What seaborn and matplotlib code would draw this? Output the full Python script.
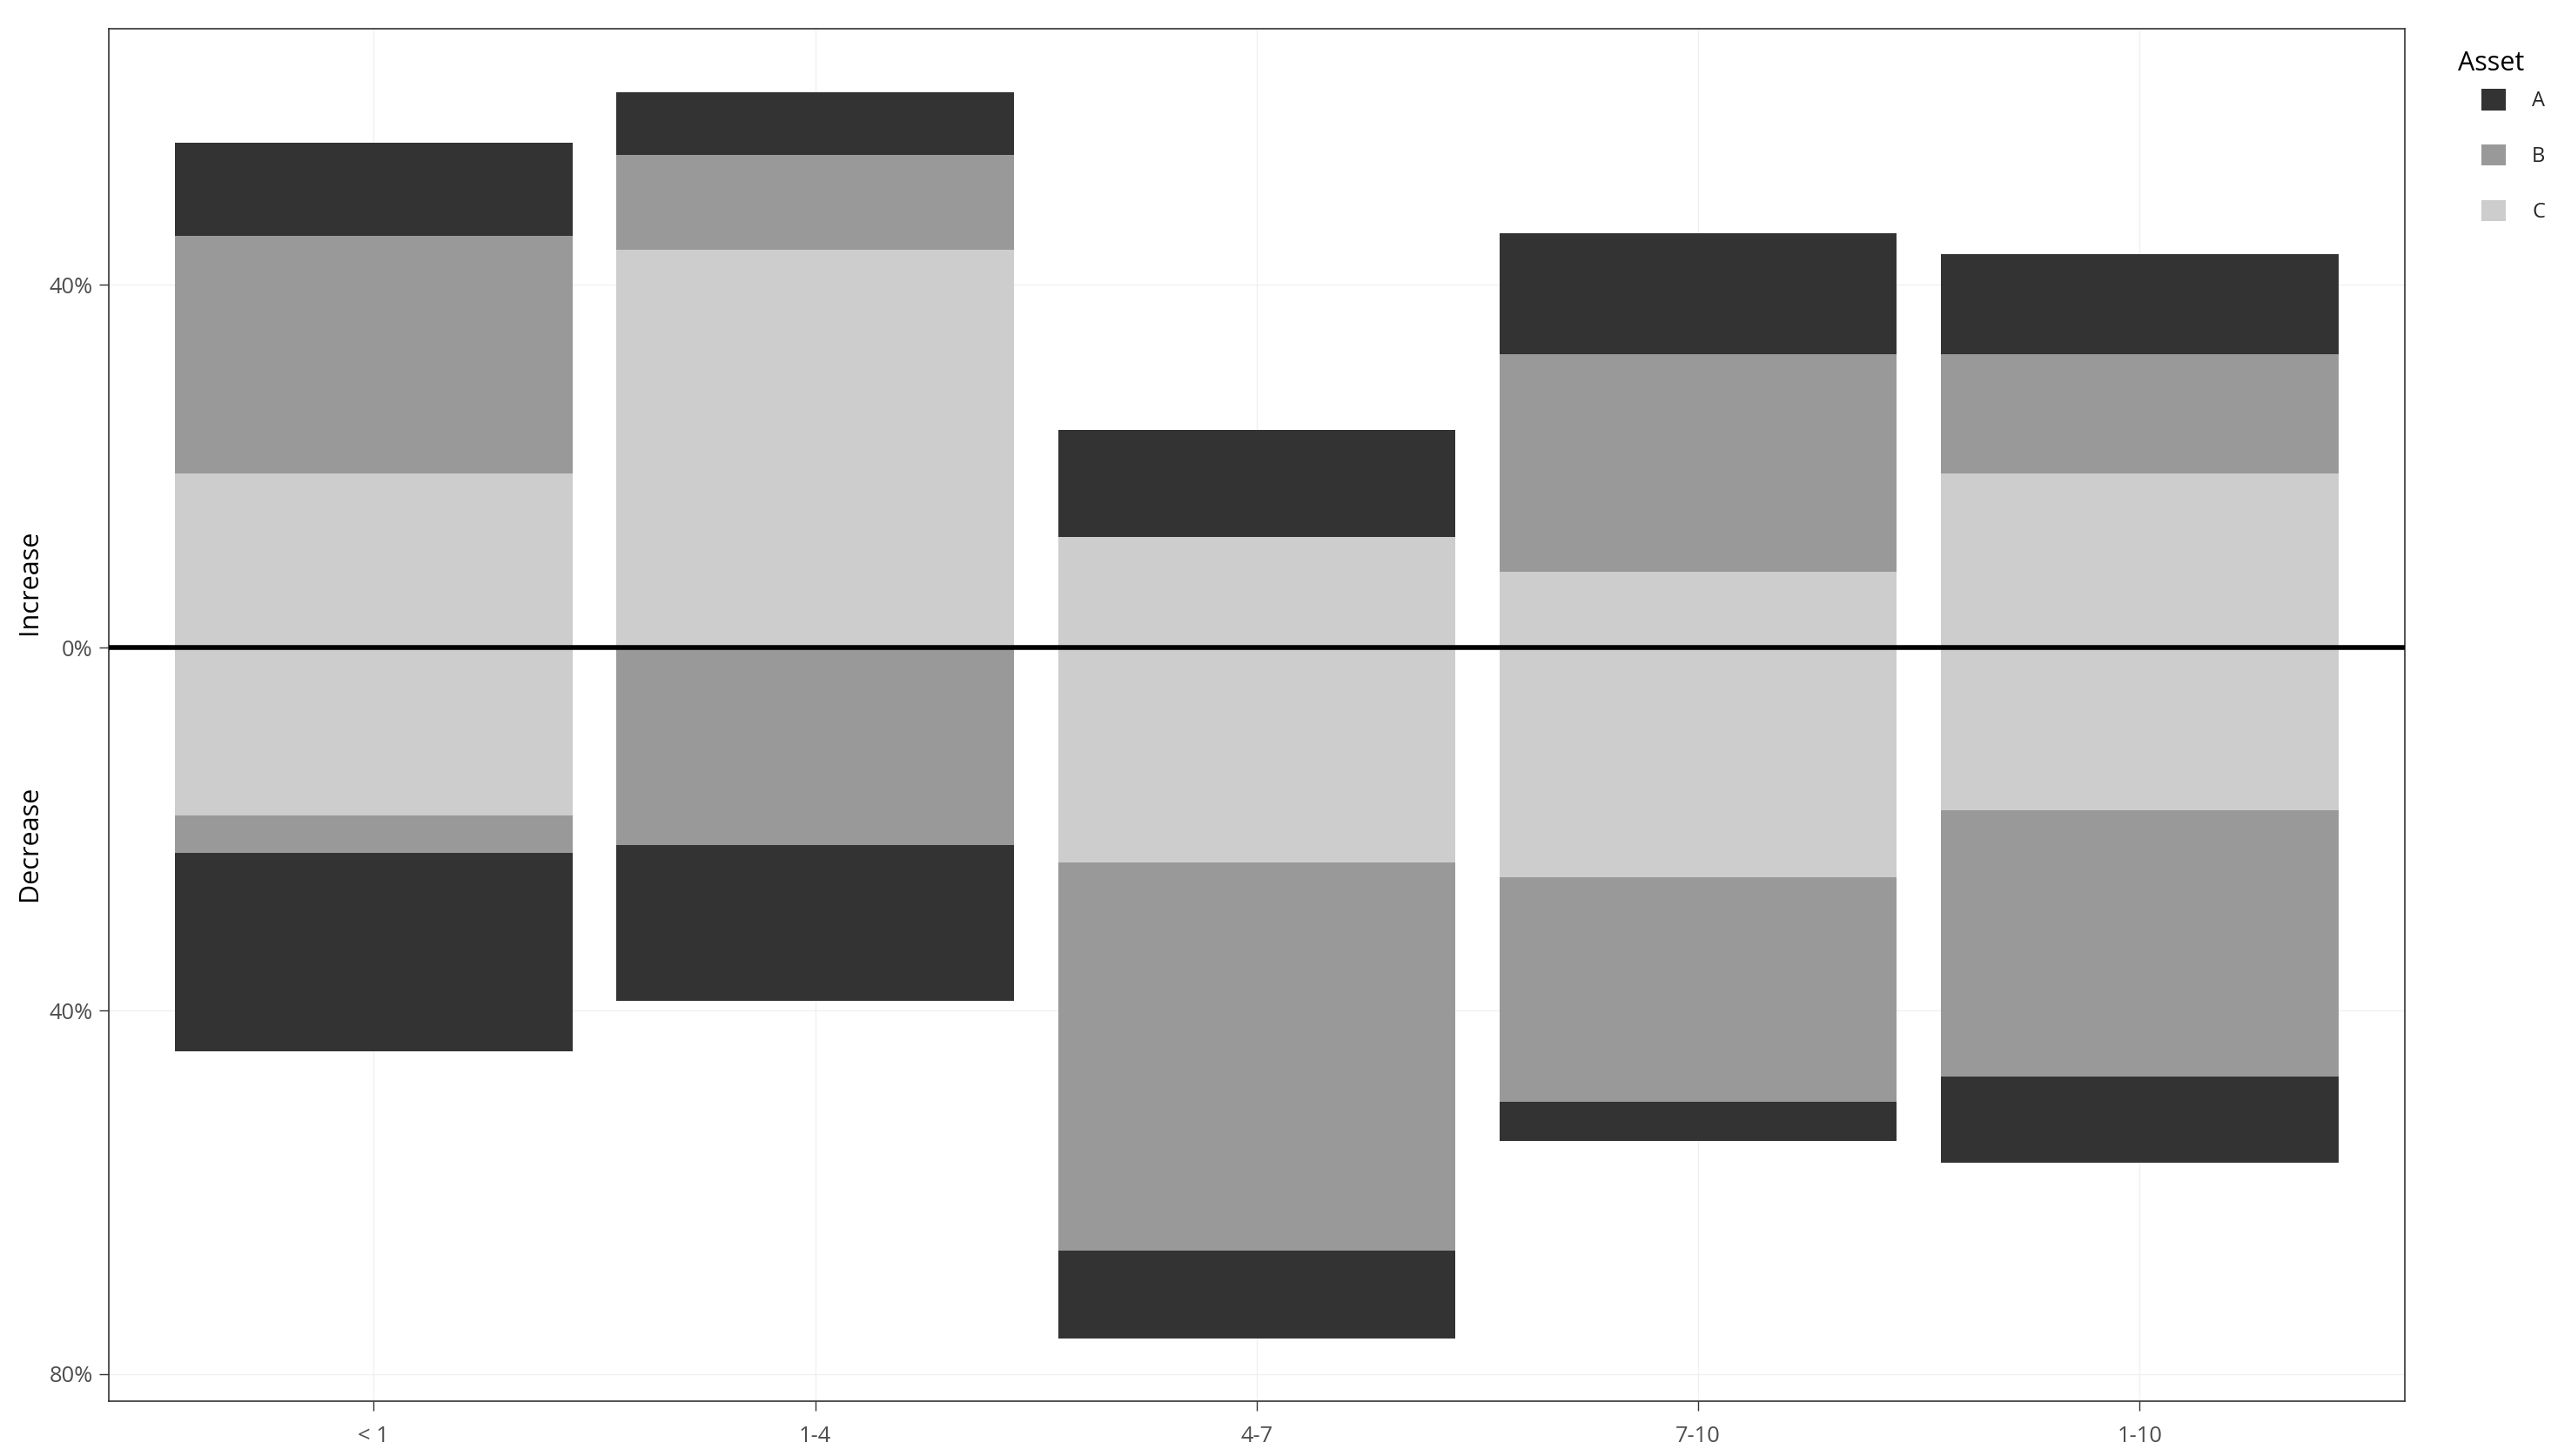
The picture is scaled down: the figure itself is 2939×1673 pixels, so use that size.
import matplotlib
matplotlib.use('Agg')
import matplotlib.pyplot as plt
import matplotlib.patches as mpatches
import seaborn as sns
import pandas as pd

# values in percent
periods = ['< 1', '1-4', '4-7', '7-10', '1-10']
inc_a = [10.2, 6.9, 11.8, 13.4, 11.1]
inc_b = [26.2, 10.5, 0.0, 23.9, 13.1]
inc_c = [19.2, 43.8, 12.2, 8.4, 19.2]
dec_a = [21.9, 17.2, 9.7, 4.3, 9.5]
dec_b = [4.1, 21.7, 42.7, 24.7, 29.3]
dec_c = [18.5, 0.0, 23.7, 25.3, 17.9]

assets = ['A', 'B', 'C']
colors = {'A': '#333333', 'B': '#999999', 'C': '#CCCDCC'}

yticks = [40, 0, -40, -80]
ytick_labels = ['40%', '0%', '40%', '80%']

sns.set_theme(style='white')
plt.rcParams['font.family'] = ['Open Sans', 'DejaVu Sans']

df = pd.DataFrame({'period': periods})
df['inc_c'] = inc_c
df['inc_cb'] = df['inc_c'] + inc_b
df['inc_cba'] = df['inc_cb'] + inc_a
df['dec_c'] = [-v for v in dec_c]
df['dec_cb'] = df['dec_c'] - pd.Series(dec_b)
df['dec_cba'] = df['dec_cb'] - pd.Series(dec_a)

fig = plt.figure(figsize=(14.695, 8.365), dpi=200)
ax = fig.add_axes([0.0425, 0.0377, 0.8975, 0.9426])

# grid first so bars sit on top
for y in yticks:
    ax.axhline(y, color='#F0F0F0', lw=0.5, zorder=0)
for x in range(len(periods)):
    ax.axvline(x, color='#F0F0F0', lw=0.5, zorder=0)

# overlapping cumulative bars give the stacked look
layers = [('inc_cba', 'A'), ('inc_cb', 'B'), ('inc_c', 'C'),
          ('dec_cba', 'A'), ('dec_cb', 'B'), ('dec_c', 'C')]
for col, asset in layers:
    sns.barplot(data=df, x='period', y=col, color=colors[asset], width=0.9,
                errorbar=None, saturation=1, linewidth=0, edgecolor='none',
                ax=ax, zorder=2)

ax.axhline(0, color='black', lw=2.0, zorder=3)

ax.set_xlim(-0.6, 4.6)
ax.set_ylim(-83.0, 68.2)
ax.set_yticks(yticks)
ax.set_yticklabels(ytick_labels)
ax.set_xlabel('')
ax.set_ylabel('')
ax.tick_params(axis='both', which='major', length=4, width=0.5, color='#333333',
               labelsize=9.2, labelcolor='#4D4D4D', left=True, bottom=True, pad=2.5)
ax.tick_params(axis='x', pad=6)
for s in ax.spines.values():
    s.set_color('#333333')
    s.set_linewidth(0.6)

fig.text(0.0115, 0.600, 'Increase', rotation=90, ha='center', va='center',
         fontsize=11, color='black')
fig.text(0.0115, 0.421, 'Decrease', rotation=90, ha='center', va='center',
         fontsize=11, color='black')

fig.text(0.961, 0.9563, 'Asset', ha='left', va='center', fontsize=11, color='black')
handles = [mpatches.Patch(facecolor=colors[a], edgecolor='none', label=a) for a in assets]
leg = fig.legend(handles=handles, loc='upper left', bbox_to_anchor=(0.970, 0.9388),
                 frameon=False, fontsize=8.5, handlelength=1.2, handleheight=1.2,
                 labelspacing=1.6, handletextpad=1.27, borderaxespad=0, borderpad=0)

fig.savefig('out.png', dpi=200)
